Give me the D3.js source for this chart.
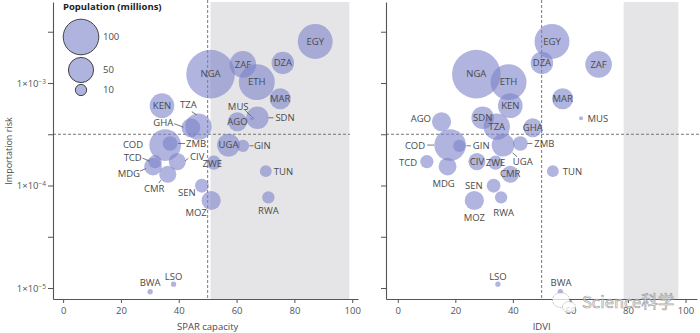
<!DOCTYPE html>
<html>
<head>
<meta charset="utf-8">
<script src="https://cdn.jsdelivr.net/npm/d3@7"></script>
<style>
    body { margin: 0; background: #fff; }
    svg { font-family: "Open Sans", "Noto Sans", sans-serif; }
</style>
</head>
<body>
<svg class="chart" width="700" height="333"></svg>
<script>
const countries = ['EGY', 'DZA', 'ZAF', 'NGA', 'ETH', 'MAR', 'KEN', 'MUS', 'SDN', 'AGO', 'TZA', 'GHA', 'COD', 'ZMB',
    'UGA', 'GIN', 'TCD', 'CIV', 'ZWE', 'MDG', 'CMR', 'TUN', 'SEN', 'RWA', 'MOZ', 'LSO', 'BWA'];
// millions
const population = [96, 40, 56, 186, 102, 35, 48, 1.3, 40, 29, 55, 28, 79, 17,
    41, 12, 14, 23, 16, 25, 23, 11, 15, 12, 29, 2.2, 2.2];
const importRisk = [2.54e-3, 1.57e-3, 1.52e-3, 1.22e-3, 1.02e-3, 7.03e-4, 6.01e-4, 4.53e-4, 4.58e-4, 4.19e-4, 3.75e-4, 3.66e-4, 2.48e-4, 2.57e-4,
    2.48e-4, 2.44e-4, 1.71e-4, 1.71e-4, 1.67e-4, 1.53e-4, 1.29e-4, 1.38e-4, 9.95e-5, 7.67e-5, 7.14e-5, 1.09e-5, 9.2e-6];
const sparCapacity = [87.2, 76.0, 62.2, 51.0, 67.0, 75.1, 34.2, 65.4, 67.2, 60.3, 46.8, 44.2, 35.3, 37.0,
    57.2, 62.2, 31.8, 39.5, 52.1, 31.1, 36.2, 70.1, 48.0, 71.0, 51.2, 38.2, 30.1];
const idvi = [53.6, 50.1, 69.8, 27.3, 38.5, 57.3, 39.1, 63.7, 29.5, 15.2, 34.4, 46.9, 18.2, 42.6,
    36.6, 21.4, 10.1, 27.5, 34.0, 17.3, 39.1, 53.9, 33.3, 35.9, 26.6, 34.8, 56.5];

const legendPop = [100, 50, 10];
const xTicks = [0, 20, 40, 60, 80, 100];
const riskTicks = [-5, -4.5, -4, -3.5, -3, -2.5].map(e => Math.pow(10, e));
const riskThreshold = Math.pow(10, -3.5);
const scoreThreshold = 50;

const data = countries.map((c, i) => ({
    code: c,
    pop: population[i],
    risk: importRisk[i],
    spar: sparCapacity[i],
    idvi: idvi[i]
}));

// label placement around each bubble: [dx, dy, anchor, leader line (x1, y1, x2, y2)]
const sparLabels = {
    MUS: [-14, -12, 'middle', [-7, -8, -1, -2]],
    SDN: [18, 0, 'start', [11, 0, 16, 0]],
    TZA: [-10, -22, 'middle', [-6.6, -15, -1.6, -11.7]],
    GHA: [-17.7, -4.6, 'end', [-16.7, -4, -7.4, -0.6]],
    COD: [-22, 0, 'end'],
    ZMB: [16, 0, 'start', [8, 0, 15, 0]],
    TCD: [-13.3, -4.2, 'end', [-12.5, -3.5, -5.5, -0.5]],
    MDG: [-13, 7, 'end', [-13, 4.5, -7, 2]],
    CIV: [12.7, -4.8, 'start', [7.7, -0.8, 11, -3.2]],
    CMR: [-13.5, 15, 'middle', [-9, 9, -7, 6]],
    ZWE: [-1.5, 1, 'middle'],
    GIN: [11, 0, 'start', [6.5, 0, 10.5, 0]],
    TUN: [8, 0.7, 'start'],
    SEN: [-15, 7, 'middle'],
    RWA: [0, 13, 'middle'],
    MOZ: [-15, 12, 'middle'],
    BWA: [0, -9, 'middle'],
    LSO: [0, -8, 'middle']
};
const idviLabels = {
    MUS: [6.5, 0, 'start'],
    AGO: [-10.5, -3, 'end'],
    COD: [-25, 0.5, 'end', [-23, 0, -16, 0]],
    GIN: [13.5, 0, 'start', [7, 0, 11.5, 0]],
    ZMB: [14, 0, 'start', [7, 0, 12, 0]],
    UGA: [19.7, 17, 'middle', [9.5, 7.7, 14, 11.7]],
    TCD: [-9.7, 0.8, 'end'],
    MDG: [-4, 16.7, 'middle'],
    SEN: [-11, 0, 'end'],
    TUN: [10, 1, 'start'],
    RWA: [2.6, 15.4, 'middle'],
    MOZ: [0, 16.8, 'middle'],
    LSO: [0, -8, 'middle'],
    BWA: [0.7, -9, 'middle']
};

const svg = d3.select('.chart');
const textColor = '#4a4a4a';
const axisColor = '#555';

const y = d3.scaleLog()
    .domain([Math.pow(10, -5.107), Math.pow(10, -2.21)])
    .range([299, 2]);

const r = d3.scaleSqrt()
    .domain([0, 100])
    .range([0, 17.8]);

const panels = [
    { key: 'spar', title: 'SPAR capacity', x: d3.scaleLinear().domain([-3.5, 102]).range([53, 358]),
      shade: [51, 99], hLineEnd: 350, labels: sparLabels, yLabels: true },
    { key: 'idvi', title: 'IDVI', x: d3.scaleLinear().domain([-4.1, 104]).range([386, 697]),
      shade: [78.5, 97.5], hLineEnd: 700, labels: idviLabels, yLabels: false }
];

function riskLabel(textSel) {
    textSel.each(function(d) {
        const e = Math.log10(d);
        const t = d3.select(this).text(null);
        if (Math.abs(e - Math.round(e)) > 0.01) return;
        t.append('tspan').text('1×10');
        t.append('tspan')
            .attr('dy', '-0.45em')
            .attr('font-size', 6.5)
            .text('−' + Math.abs(Math.round(e)));
    });
}

panels.forEach(p => {
    const x = p.x;
    const g = svg.append('g').attr('class', 'panel-' + p.key);

    // shaded band
    g.append('rect')
        .attr('x', x(p.shade[0]))
        .attr('y', y.range()[1])
        .attr('width', x(p.shade[1]) - x(p.shade[0]))
        .attr('height', y.range()[0] - y.range()[1])
        .attr('fill', '#e5e5e8');

    // threshold lines
    g.append('line')
        .attr('x1', x.range()[0]).attr('x2', p.hLineEnd)
        .attr('y1', y(riskThreshold)).attr('y2', y(riskThreshold))
        .attr('stroke', '#666').attr('stroke-width', 0.9)
        .attr('stroke-dasharray', '3,2');
    g.append('line')
        .attr('x1', x(scoreThreshold)).attr('x2', x(scoreThreshold))
        .attr('y1', 0).attr('y2', y.range()[0])
        .attr('stroke', '#666').attr('stroke-width', 0.9)
        .attr('stroke-dasharray', '3,2');

    const sorted = data.slice().sort((a, b) => b.pop - a.pop);

    g.selectAll('.bubble')
        .data(sorted)
        .enter().append('circle')
        .attr('class', 'bubble')
        .attr('cx', d => x(d[p.key]))
        .attr('cy', d => y(d.risk))
        .attr('r', d => r(d.pop))
        .attr('fill', '#7b82c8')
        .attr('fill-opacity', 0.6);

    // leader lines
    g.selectAll('.leader')
        .data(data.filter(d => p.labels[d.code] && p.labels[d.code][3]))
        .enter().append('line')
        .attr('class', 'leader')
        .attr('x1', d => x(d[p.key]) + p.labels[d.code][3][0])
        .attr('y1', d => y(d.risk) + p.labels[d.code][3][1])
        .attr('x2', d => x(d[p.key]) + p.labels[d.code][3][2])
        .attr('y2', d => y(d.risk) + p.labels[d.code][3][3])
        .attr('stroke', '#555')
        .attr('stroke-width', 0.8);

    g.selectAll('.code')
        .data(data)
        .enter().append('text')
        .attr('class', 'code')
        .attr('x', d => x(d[p.key]) + (p.labels[d.code] ? p.labels[d.code][0] : 0))
        .attr('y', d => y(d.risk) + (p.labels[d.code] ? p.labels[d.code][1] : 0))
        .attr('dy', '0.35em')
        .attr('text-anchor', d => p.labels[d.code] ? p.labels[d.code][2] : 'middle')
        .attr('font-size', 9.5)
        .attr('fill', textColor)
        .text(d => d.code);

    // axes
    const yAxis = g.append('g')
        .attr('transform', 'translate(' + x.range()[0] + ',0)')
        .call(d3.axisLeft(y).tickValues(riskTicks).tickSize(5).tickSizeOuter(0).tickPadding(2));
    if (p.yLabels) yAxis.selectAll('.tick text').call(riskLabel);
    else yAxis.selectAll('.tick text').remove();

    const xAxis = g.append('g')
        .attr('transform', 'translate(0,' + y.range()[0] + ')')
        .call(d3.axisBottom(x).tickValues(xTicks).tickSize(4).tickSizeOuter(0).tickPadding(4));

    [yAxis, xAxis].forEach(a => {
        a.attr('font-family', null).attr('font-size', 9.5);
        a.select('.domain').attr('stroke', axisColor).attr('stroke-width', 1.1);
        a.selectAll('.tick line').attr('stroke', axisColor);
        a.selectAll('.tick text').attr('fill', '#555');
    });

    g.append('text')
        .attr('x', x(scoreThreshold))
        .attr('y', 327)
        .attr('dy', '0.35em')
        .attr('text-anchor', 'middle')
        .attr('font-size', 9.5)
        .attr('fill', textColor)
        .text(p.title);
});

svg.append('text')
    .attr('transform', 'translate(9,151) rotate(-90)')
    .attr('dy', '0.35em')
    .attr('text-anchor', 'middle')
    .attr('font-size', 9)
    .attr('fill', textColor)
    .text('Importation risk');

// population key
const legend = svg.append('g').attr('class', 'legend');
legend.append('text')
    .attr('x', 63).attr('y', 7)
    .attr('dy', '0.35em')
    .attr('font-size', 9.5)
    .attr('font-weight', 'bold')
    .attr('fill', '#222')
    .text('Population (millions)');

const legendY = [37, 70, 90];
legend.selectAll('circle')
    .data(legendPop)
    .enter().append('circle')
    .attr('cx', 81)
    .attr('cy', (d, i) => legendY[i])
    .attr('r', d => r(d))
    .attr('fill', '#8d94d0')
    .attr('fill-opacity', 0.7)
    .attr('stroke', '#333')
    .attr('stroke-width', 0.9);

legend.selectAll('.lab')
    .data(legendPop)
    .enter().append('text')
    .attr('class', 'lab')
    .attr('x', 103)
    .attr('y', (d, i) => legendY[i])
    .attr('dy', '0.35em')
    .attr('font-size', 9.5)
    .attr('fill', textColor)
    .text(d => d);

// corner mark
const mark = svg.append('g').attr('opacity', 0.75);
mark.append('ellipse')
    .attr('cx', 561).attr('cy', 300).attr('rx', 8.5).attr('ry', 7.5)
    .attr('fill', '#fff').attr('stroke', '#999').attr('stroke-width', 0.8).attr('stroke-dasharray', '2,1');
mark.append('ellipse')
    .attr('cx', 569).attr('cy', 307).attr('rx', 6.5).attr('ry', 5.5)
    .attr('fill', '#fff').attr('stroke', '#999').attr('stroke-width', 0.8).attr('stroke-dasharray', '2,1');
mark.append('text')
    .attr('x', 582).attr('y', 308)
    .attr('font-size', 16.5)
    .attr('fill', '#fff')
    .attr('stroke', '#888')
    .attr('stroke-width', 0.7)
    .attr('font-family', '"Noto Sans CJK SC", sans-serif')
    .text('Science科学');
</script>
</body>
</html>
